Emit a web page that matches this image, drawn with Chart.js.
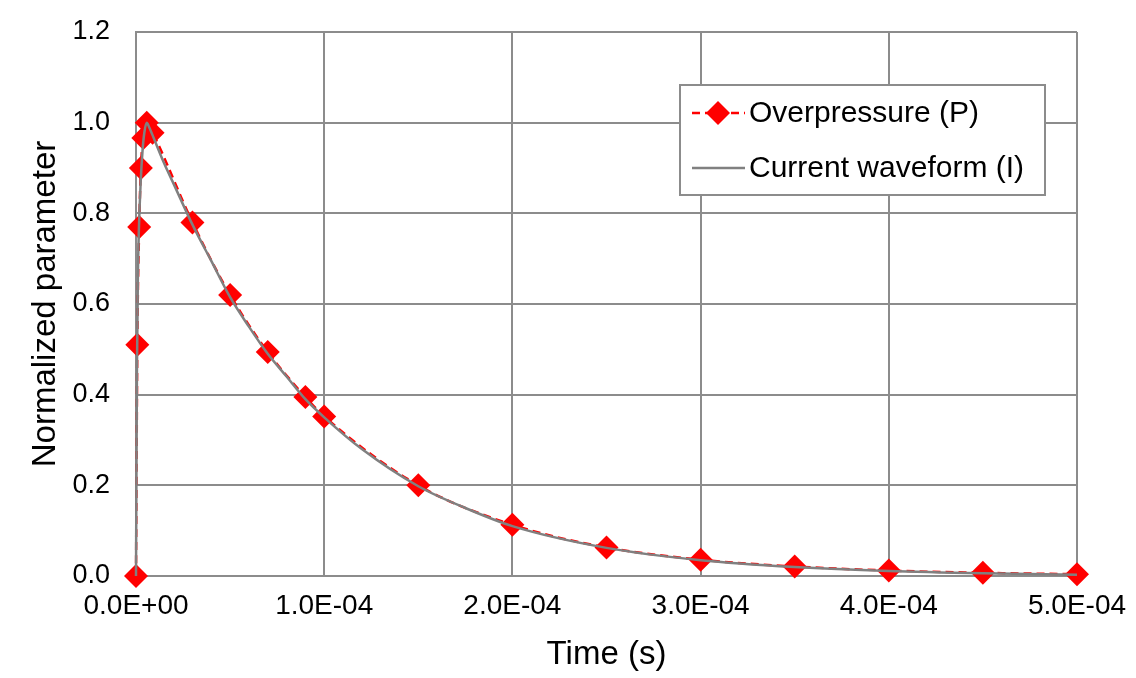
<!DOCTYPE html>
<html>
<head>
<meta charset="utf-8">
<script src="https://cdn.jsdelivr.net/npm/chart.js@4"></script>
<style>
  body { margin: 0; background: #fff; }
</style>
</head>
<body>
<canvas id="chartWave" width="1136" height="678"></canvas>
<script>
// Overpressure (P) markers - time in s, normalized value
const pTime = [0, 0.7e-6, 1.7e-6, 2.6e-6, 3.9e-6, 5.7e-6, 8.8e-6, 3e-5, 5e-5, 7e-5, 9e-5, 1e-4,
  1.5e-4, 2e-4, 2.5e-4, 3e-4, 3.5e-4, 4e-4, 4.5e-4, 5e-4];
const pValue = [0, 0.51, 0.77, 0.90, 0.966, 1.0, 0.978, 0.78, 0.62, 0.494, 0.395, 0.352,
  0.2, 0.113, 0.063, 0.036, 0.021, 0.012, 0.007, 0.004];

// Current waveform (I)
const iTime = [0, 0.5e-6, 1e-6, 1.5e-6, 2.5e-6, 3.5e-6, 4.5e-6, 5.7e-6, 7e-6, 10e-6, 15e-6, 20e-6,
  30e-6, 40e-6, 50e-6, 60e-6, 70e-6, 80e-6, 90e-6, 100e-6, 120e-6, 150e-6, 175e-6, 200e-6,
  250e-6, 300e-6, 350e-6, 400e-6, 450e-6, 500e-6];
const iValue = [0, 0.45, 0.66, 0.76, 0.87, 0.94, 0.98, 1.0, 0.99, 0.96, 0.91, 0.865,
  0.775, 0.695, 0.615, 0.55, 0.49, 0.44, 0.39, 0.35, 0.28, 0.198, 0.15, 0.11,
  0.062, 0.035, 0.02, 0.011, 0.006, 0.003];

const xTicks = [0, 1e-4, 2e-4, 3e-4, 4e-4, 5e-4];
const yTicks = [0, 0.2, 0.4, 0.6, 0.8, 1.0, 1.2];

const FONT = "'Liberation Sans', Arial, sans-serif";
const GRID = '#8c8c8c';

function sci(v) {
  // 1.0E-04 style
  if (v === 0) return '0.0E+00';
  const e = Math.floor(Math.log10(Math.abs(v)) + 1e-9);
  const m = v / Math.pow(10, e);
  const sign = e < 0 ? '-' : '+';
  return m.toFixed(1) + 'E' + sign + String(Math.abs(e)).padStart(2, '0');
}

// legend box inside the plot, like the Excel one
const boxLegend = {
  id: 'boxLegend',
  afterDraw(chart) {
    const c = chart.ctx;
    c.save();
    c.fillStyle = '#fff';
    c.fillRect(680, 85, 365, 110);
    c.strokeStyle = GRID;
    c.lineWidth = 2;
    c.strokeRect(680, 85, 365, 110);

    const rows = [chart.data.datasets[1], chart.data.datasets[0]];
    rows.forEach((ds, i) => {
      const y = 113 + i * 55;
      c.strokeStyle = ds.borderColor;
      c.lineWidth = ds.borderWidth;
      c.setLineDash(ds.borderDash || []);
      c.beginPath();
      c.moveTo(692, y);
      c.lineTo(745, y);
      c.stroke();
      c.setLineDash([]);
      if (ds.pointRadius > 0) {
        c.fillStyle = ds.pointBackgroundColor;
        c.beginPath();
        c.moveTo(718 - 12, y);
        c.lineTo(718, y - 12);
        c.lineTo(718 + 12, y);
        c.lineTo(718, y + 12);
        c.closePath();
        c.fill();
      }
      c.fillStyle = '#000';
      c.font = '30px ' + FONT;
      c.textBaseline = 'middle';
      c.fillText(ds.label, 749, y + 1);
    });
    c.restore();
  }
};

const ctx = document.getElementById('chartWave').getContext('2d');

new Chart(ctx, {
  type: 'line',
  data: {
    datasets: [
      {
        label: 'Current waveform (I)',
        data: iTime.map((t, k) => ({ x: t, y: iValue[k] })),
        borderColor: '#808080',
        borderWidth: 2.5,
        pointRadius: 0,
        cubicInterpolationMode: 'monotone',
        clip: false,
        order: 0
      },
      {
        label: 'Overpressure (P)',
        data: pTime.map((t, k) => ({ x: t, y: pValue[k] })),
        borderColor: '#ff0000',
        borderWidth: 2.5,
        borderDash: [8, 5],
        pointStyle: 'rectRot',
        pointRadius: 12,
        pointBackgroundColor: '#ff0000',
        pointBorderColor: '#ff0000',
        pointBorderWidth: 0,
        cubicInterpolationMode: 'monotone',
        clip: false,
        order: 1
      }
    ]
  },
  options: {
    responsive: false,
    animation: false,
    layout: { autoPadding: false, padding: { top: 32, right: 59, left: 0, bottom: 0 } },
    plugins: {
      legend: { display: false },
      tooltip: { enabled: false }
    },
    scales: {
      x: {
        type: 'linear',
        min: 0,
        max: 5e-4,
        afterBuildTicks: s => { s.ticks = xTicks.map(v => ({ value: v })); },
        afterFit: s => { s.height = 102; s.paddingLeft = 0; s.paddingRight = 0; },
        grid: { color: GRID, lineWidth: 2, drawTicks: false },
        border: { color: GRID, width: 2 },
        ticks: {
          padding: 13,
          color: '#000',
          font: { family: FONT, size: 28 },
          maxRotation: 0,
          callback: v => sci(v)
        },
        title: {
          display: true,
          text: 'Time (s)',
          color: '#000',
          font: { family: FONT, size: 33 },
          padding: { top: 0, bottom: 3 }
        }
      },
      y: {
        min: 0,
        max: 1.2,
        afterBuildTicks: s => { s.ticks = yTicks.map(v => ({ value: v })); },
        afterFit: s => { s.width = 136; s.paddingTop = 0; s.paddingBottom = 0; },
        grid: { color: GRID, lineWidth: 2, drawTicks: false },
        border: { color: GRID, width: 2 },
        ticks: {
          padding: 26,
          color: '#000',
          font: { family: FONT, size: 27 },
          callback: v => v.toFixed(1)
        },
        title: {
          display: true,
          text: 'Normalized parameter',
          color: '#000',
          font: { family: FONT, size: 33 },
          padding: { top: 26, bottom: 0 }
        }
      }
    }
  },
  plugins: [boxLegend]
});
</script>
</body>
</html>
